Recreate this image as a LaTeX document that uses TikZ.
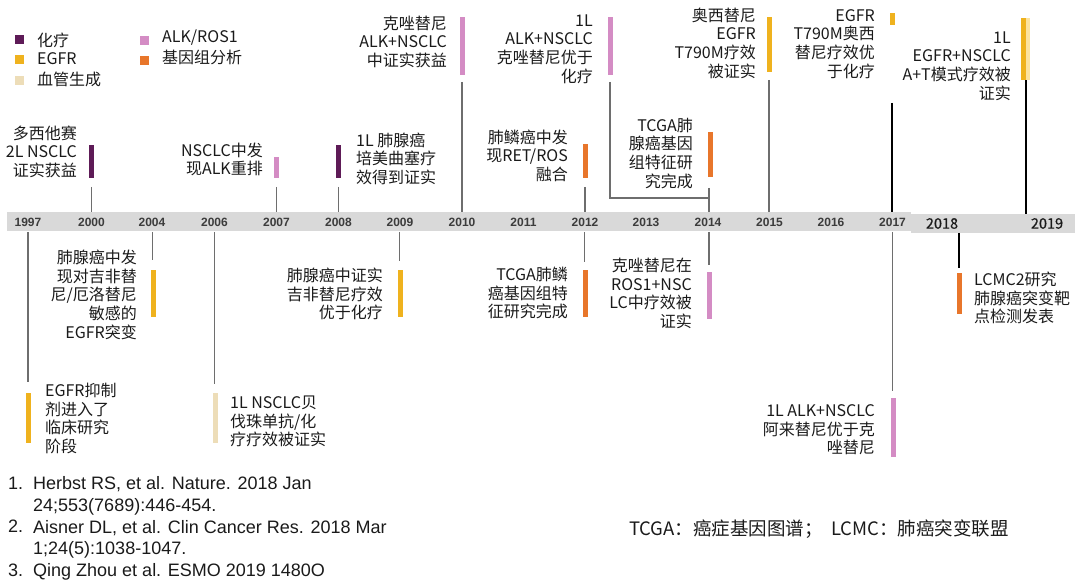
\documentclass[tikz,border=0pt]{standalone}
\usepackage{fontspec}
\newfontfamily\cjk{Noto Sans CJK SC}
\newfontfamily\cjkmed{Noto Sans CJK SC}[FakeBold=0.5]
\newfontfamily\arial{Liberation Sans}
\definecolor{chemo}{HTML}{5E1B57}
\definecolor{egfr}{HTML}{EFB21E}
\definecolor{egfrpale}{HTML}{FCE3A0}
\definecolor{angio}{HTML}{EDDDB8}
\definecolor{alk}{HTML}{D48CC4}
\definecolor{geno}{HTML}{E8762B}
\definecolor{band}{HTML}{D9D9D9}
\definecolor{tickgray}{HTML}{6E6E6E}
\definecolor{ink}{HTML}{1A1A1A}
\newcommand\mkbar[5]{\node[evbar,fill=#2,minimum height={#5-#4}] (#1) at (#3,{(#4+#5)/2}) {};}
\newcommand\mklab[5]{\node[#2] (#1) at (#3,{#4-9}) {\rule{0pt}{15pt}#5};}
\begin{document}
\begin{tikzpicture}[x=1pt,y=-1pt,
  lbl/.style={inner sep=0pt,font=\cjk\fontsize{16}{18.8}\selectfont,text=ink},
  lblR/.style={lbl,anchor=north east,align=right},
  lblL/.style={lbl,anchor=north west,align=left},
  evbar/.style={rectangle,draw=none,inner sep=0pt,minimum width=5pt},
  sq/.style={rectangle,draw=none,inner sep=0pt,minimum size=9pt},
  legtxt/.style={inner sep=0pt,anchor=west,font=\cjk\fontsize{16}{19}\selectfont,text=ink},
  year/.style={inner sep=0pt,font=\arial\bfseries\fontsize{12}{14}\selectfont,text=ink!85},
  yearbig/.style={inner sep=0pt,font=\cjkmed\fontsize{14.5}{16}\selectfont,text=ink},
  tick/.style={draw=tickgray,line width=1.2pt},
  tickdark/.style={draw=black,line width=1.8pt},
  refnum/.style={inner sep=0pt,anchor=base west,text=ink,font=\arial\fontsize{18}{21.7}\selectfont},
  reftxt/.style={inner sep=0pt,anchor=north west,align=left,text=ink,font=\arial\fontsize{18}{21.7}\selectfont}]
\useasboundingbox (0,0) rectangle (1080,583);

% legend
\node[sq,fill=chemo] (lg1) at (19.5,39.5) {};
\node[sq,fill=egfr] (lg2) at (19.5,59.5) {};
\node[sq,fill=angio] (lg3) at (19.5,80.5) {};
\node[sq,fill=alk] (lg4) at (144.5,40.5) {};
\node[sq,fill=geno] (lg5) at (144.5,60.5) {};
\node[legtxt] (lt1) at (37,40) {化疗};
\node[legtxt] (lt2) at (37,59) {EGFR};
\node[legtxt] (lt3) at (37,79) {血管生成};
\node[legtxt] (lt4) at (162,38) {ALK/ROS1};
\node[legtxt] (lt5) at (162,57) {基因组分析};

% timeline band
\fill[band] (7,212) rectangle (911,231);
\fill[band] (911,214) rectangle (1075,233);
\foreach \yr/\xx in {1997/28,2000/91.5,2004/152,2006/214.5,2007/276.5,2008/338.5,2009/400,2010/462,2011/523.5,2012/585,2013/646,2014/708,2015/769.5,2016/831,2017/892.5}
  \node[year] (y\yr) at (\xx,222.5) {\yr};
\node[yearbig] (y2018) at (942,223.5) {2018};
\node[yearbig] (y2019) at (1047,223.5) {2019};

% ticks (gray)
\foreach \nm/\xx/\ya/\yb in {u2000/91.5/187/212,u2007/276.5/187/212,u2008/338.5/187/212,u2010/462/82/212,u2012/585/187/212,u2014/709/188/212,u2015/769/80/212,d1997/28/232/382,d2004/152.5/232/260,d2006/214.5/232/384,d2009/399.5/232/261,d2012/584.5/232/262,d2014/709/232/265,d2017/892.5/232/391}
{
  \coordinate (ta\nm) at (\xx,\ya);
  \coordinate (tb\nm) at (\xx,\yb);
  \draw[tick] (ta\nm) -- (tb\nm);
}
% bracket 2013 -> 2014
\coordinate (br1) at (610,82);
\coordinate (br2) at (709,198);
\draw[tick] (br1) |- (br2);
% dark ticks
\coordinate (ta2017) at (892,103); \coordinate (tb2017) at (892,212);
\draw[tickdark] (ta2017) -- (tb2017);
\coordinate (ta2019) at (1026,80); \coordinate (tb2019) at (1026,214);
\draw[tickdark] (ta2019) -- (tb2019);
\coordinate (ta2018) at (959,233); \coordinate (tb2018) at (959,268);
\draw[tickdark] (ta2018) -- (tb2018);

% event bars
\mkbar{b2000}{chemo}{91}{145}{178}
\mkbar{b2007}{alk}{276}{157}{178}
\mkbar{b2008}{chemo}{338}{145}{178}
\mkbar{b2010}{alk}{462}{17}{75}
\mkbar{b2012u}{geno}{585}{144}{178}
\mkbar{b2013}{alk}{610}{17}{75}
\mkbar{b2014u}{geno}{710}{132}{177}
\mkbar{b2015}{egfr}{769}{17}{72}
\mkbar{b2017u}{egfr}{892}{13}{25}
\mkbar{b2019}{egfr}{1023.5}{18}{80}
\node[evbar,fill=egfrpale,minimum width=4pt,minimum height=62pt] (b2019p) at (1028,49) {};
\mkbar{b1997}{egfr}{28}{393}{443}
\mkbar{b2004}{egfr}{153}{270}{317}
\mkbar{b2006}{angio}{215}{393}{443}
\mkbar{b2009}{egfr}{400}{270}{317}
\mkbar{b2012d}{geno}{585}{270}{317}
\mkbar{b2014d}{alk}{709}{272}{319}
\mkbar{b2017d}{alk}{893}{398}{457}
\mkbar{b2018}{geno}{959}{273}{314}

% event labels
\mklab{l2000}{lblR}{77}{133}{多西他赛\\2L NSCLC\\证实获益}
\mklab{l2007}{lblR}{263}{150}{NSCLC中发\\现ALK重排}
\mklab{l2008}{lblL}{356}{140}{1L 肺腺癌\\培美曲塞疗\\效得到证实}
\mklab{l2010}{lblR}{447}{23}{克唑替尼\\ALK+NSCLC\\中证实获益}
\mklab{l2012u}{lblR}{568}{137}{肺鳞癌中发\\现RET/ROS\\融合}
\mklab{l2013}{lblR}{593}{20}{1L\\ALK+NSCLC\\克唑替尼优于\\化疗}
\mklab{l2014u}{lblR}{693}{125}{TCGA肺\\腺癌基因\\组特征研\\究完成}
\mklab{l2015}{lblR}{756}{15}{奥西替尼\\EGFR\\T790M疗效\\被证实}
\mklab{l2017u}{lblR}{875}{15}{EGFR\\T790M奥西\\替尼疗效优\\于化疗}
\mklab{l2019}{lblR}{1011}{37}{1L\\EGFR+NSCLC\\A+T模式疗效被\\证实}
\mklab{l1997}{lblL}{45}{390}{EGFR抑制\\剂进入了\\临床研究\\阶段}
\mklab{l2004}{lblR}{137}{257}{肺腺癌中发\\现对吉非替\\尼/厄洛替尼\\敏感的\\EGFR突变}
\mklab{l2006}{lblL}{230}{402}{1L NSCLC贝\\伐珠单抗/化\\疗疗效被证实}
\mklab{l2009}{lblR}{383}{275}{肺腺癌中证实\\吉非替尼疗效\\优于化疗}
\mklab{l2012d}{lblR}{568}{274}{TCGA肺鳞\\癌基因组特\\征研究完成}
\mklab{l2014d}{lblR}{692}{265}{克唑替尼在\\ROS1+NSC\\LC中疗效被\\证实}
\mklab{l2017d}{lblR}{875}{410}{1L ALK+NSCLC\\阿来替尼优于克\\唑替尼}
\mklab{l2018}{lblL}{974}{279}{LCMC2研究\\肺腺癌突变靶\\点检测发表}

% references
\node[refnum] (rn1) at (8,489.5) {1.};
\node[refnum] (rn2) at (8,532.9) {2.};
\node[refnum] (rn3) at (8,576.3) {3.};
\node[reftxt] (rt1) at (33,475.5) {\rule{0pt}{14pt}Herbst RS, et al. Nature. 2018 Jan\\24;553(7689):446-454.};
\node[reftxt] (rt2) at (33,518.9) {\rule{0pt}{14pt}Aisner DL, et al. Clin Cancer Res. 2018 Mar\\1;24(5):1038-1047.};
\node[reftxt] (rt3) at (33,562.3) {\rule{0pt}{14pt}Qing Zhou et al. ESMO 2019 1480O};

% footnote
\node[inner sep=0pt,anchor=west,text=ink,font=\cjk\fontsize{18.5}{22}\selectfont] (abbr) at (629,529)
  {TCGA：癌症基因图谱；\ \ LCMC：肺癌突变联盟};
\end{tikzpicture}
\end{document}
